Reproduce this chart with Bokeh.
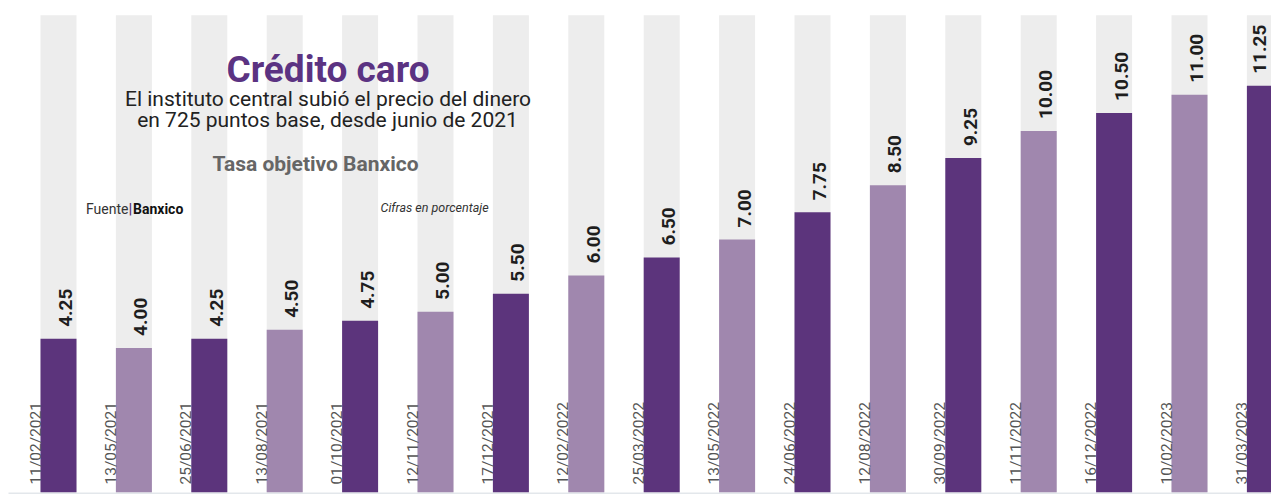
import numpy as np
from bokeh.plotting import figure
from bokeh.models import ColumnDataSource, Range1d
from bokeh.core.properties import value
from bokeh.embed import file_html
from bokeh.resources import INLINE

# ---------------- data ----------------
fechas = ["11/02/2021", "13/05/2021", "25/06/2021", "13/08/2021", "01/10/2021",
          "12/11/2021", "17/12/2021", "12/02/2022", "25/03/2022", "13/05/2022",
          "24/06/2022", "12/08/2022", "30/09/2022", "11/11/2022", "16/12/2022",
          "10/02/2023", "31/03/2023"]
tasas = [4.25, 4.00, 4.25, 4.50, 4.75, 5.00, 5.50, 6.00, 6.50, 7.00,
         7.75, 8.50, 9.25, 10.00, 10.50, 11.00, 11.25]

titulo = "Crédito caro"
subtitulo_1 = "El instituto central subió el precio del dinero"
subtitulo_2 = "en 725 puntos base, desde junio de 2021"
encabezado = "Tasa objetivo Banxico"
fuente_1 = "Fuente"
fuente_2 = "Banxico"
nota = "Cifras en porcentaje"

# ---------------- layout ----------------
W, H = 1271, 494
ORIGIN = 0       # page offset of the canvas
X_PX = 75.4      # px per bar step
Y_PX = 36.15     # px per percentage point
X0_PAGE = 58.0   # page x of first bar centre
Y0_PAGE = 492.0  # page y of the baseline
BG_TOP = 13.2    # top of grey background columns

DARK = "#5c347c"
LIGHT = "#a087ae"
GREY = "#ededed"


def px(xp):
    return (xp - X0_PAGE) / X_PX


def py(yp):
    return (Y0_PAGE - yp) / Y_PX


FONT = value("Roboto")

p = figure(width=W, height=H, output_backend="svg", toolbar_location=None,
           x_range=Range1d(px(ORIGIN), px(ORIGIN + W)),
           y_range=Range1d(py(ORIGIN + H), py(ORIGIN)),
           x_axis_location=None, y_axis_location=None, min_border=0,
           outline_line_color=None, background_fill_color="white",
           border_fill_color="white")
p.xgrid.visible = False
p.ygrid.visible = False

idx = list(range(len(tasas)))
colores = [DARK if i % 2 == 0 else LIGHT for i in idx]
# keep value labels inside the canvas (the last column is cut by the edge)
label_x = [min(i, px(ORIGIN + W - 19)) for i in idx]
src = ColumnDataSource(dict(
    x=idx, lx=label_x, tasa=tasas, fecha=fechas, color=colores,
    etiqueta=[f"{v:.2f}" for v in tasas],
    bg=[BG_TOP] * len(tasas),
))

bw = 36 / X_PX
p.vbar(x="x", top="bg", bottom=0, width=bw, source=src, fill_color=GREY, line_color=None)
p.vbar(x="x", top="tasa", bottom=0, width=bw, source=src, fill_color="color", line_color=None)

# baseline
p.segment(x0=[px(8)], y0=[py(493)], x1=[px(ORIGIN + W)], y1=[py(493)],
          line_color="#e3e7eb", line_width=2)

# value labels (rotated)
p.text(x="lx", y="tasa", text="etiqueta", source=src, angle=np.pi / 2,
       x_offset=7, y_offset=-12, text_align="left", text_baseline="alphabetic",
       text_font=FONT, text_font_size=value("19px"), text_font_style="bold",
       text_color="#1e1e1e")

# date labels (rotated)
p.text(x="x", y=0, text="fecha", source=src, angle=np.pi / 2,
       x_offset=-23, y_offset=-8, text_align="left", text_baseline="alphabetic",
       text_font=FONT, text_font_size=value("15.5px"), text_color="#555555")

# titles
p.text(x=[px(327.5)], y=[py(69)], text=[titulo], text_align="center",
       text_baseline="alphabetic", text_font=FONT, text_font_size=value("37px"),
       text_font_style="bold", text_color="#5b3382")
p.text(x=[px(327.5)], y=[py(98.3)], text=[subtitulo_1], text_align="center",
       text_baseline="alphabetic", text_font=FONT, text_font_size=value("21px"),
       text_color="#222222")
p.text(x=[px(327)], y=[py(119.3)], text=[subtitulo_2], text_align="center",
       text_baseline="alphabetic", text_font=FONT, text_font_size=value("21px"),
       text_color="#222222")
p.text(x=[px(315)], y=[py(163.3)], text=[encabezado], text_align="center",
       text_baseline="alphabetic", text_font=FONT, text_font_size=value("21px"),
       text_font_style="bold", text_color="#666666")

# source / note
p.text(x=[px(128)], y=[py(208.3)], text=[fuente_1], text_align="right",
       text_baseline="alphabetic", text_font=FONT, text_font_size=value("14px"),
       text_color="#333333")
p.text(x=[px(130)], y=[py(208.3)], text=["|"], text_align="center",
       text_baseline="alphabetic", text_font=FONT, text_font_size=value("15px"),
       text_font_style="bold", text_color=DARK)
p.text(x=[px(132.5)], y=[py(208.3)], text=[fuente_2], text_align="left",
       text_baseline="alphabetic", text_font=FONT, text_font_size=value("14px"),
       text_font_style="bold", text_color="#111111")
p.text(x=[px(380)], y=[py(207.3)], text=[nota], text_align="left",
       text_baseline="alphabetic", text_font=FONT, text_font_size=value("12.5px"),
       text_font_style="italic", text_color="#333333")

open("out.html", "w").write(file_html(p, INLINE))
